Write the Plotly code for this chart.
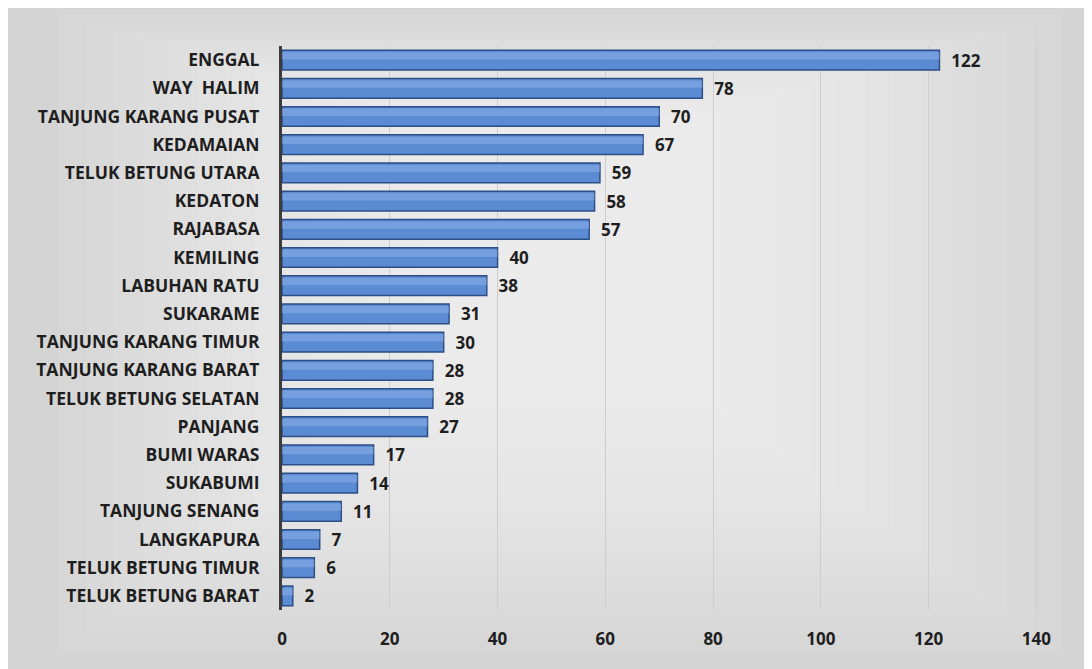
import plotly.graph_objects as go

kecamatan = ["ENGGAL", "WAY  HALIM", "TANJUNG KARANG PUSAT", "KEDAMAIAN",
             "TELUK BETUNG UTARA", "KEDATON", "RAJABASA", "KEMILING",
             "LABUHAN RATU", "SUKARAME", "TANJUNG KARANG TIMUR",
             "TANJUNG KARANG BARAT", "TELUK BETUNG SELATAN", "PANJANG",
             "BUMI WARAS", "SUKABUMI", "TANJUNG SENANG", "LANGKAPURA",
             "TELUK BETUNG TIMUR", "TELUK BETUNG BARAT"]
jumlah = [122, 78, 70, 67, 59, 58, 57, 40, 38, 31, 30, 28, 28, 27, 17, 14, 11, 7, 6, 2]
x_ticks = [0, 20, 40, 60, 80, 100, 120, 140]

# page has an 8px body margin, so the figure itself is a bit smaller
W, H = 1084, 661
L, R, T, B = 274, 34, 38, 59
pw, ph = W - L - R, H - T - B


def px_x(v):
    return (v - L) / pw


def px_y(v):
    return (H - B - v) / ph


fig = go.Figure()

# main bars
fig.add_trace(go.Bar(
    y=kecamatan, x=jumlah, orientation="h", width=0.7,
    marker=dict(color="#5b8bd2", line=dict(color="#2d4e86", width=1.5)),
    text=jumlah, texttemplate="  %{x}", textposition="outside", cliponaxis=False,
    constraintext="none",
    textfont=dict(family="Open Sans", size=17, color="#1e1e1e", weight="bold"),
    hoverinfo="skip",
))
# highlight strip for a bit of a 3d look
fig.add_trace(go.Bar(
    y=kecamatan, x=jumlah, orientation="h", width=0.26, offset=-0.28,
    marker=dict(color="#8fb4ea", opacity=0.5, line=dict(width=0)),
    hoverinfo="skip",
))

# soft radial-ish background
shapes = [dict(type="rect", xref="paper", yref="paper",
               x0=px_x(0), x1=px_x(W), y0=px_y(H), y1=px_y(0),
               fillcolor="#d4d4d4", line_width=0, layer="below")]
for i in range(14):
    pad_x, pad_y = 20 + i * 28, 15 + i * 20
    shapes.append(dict(type="rect", xref="paper", yref="paper",
                       x0=px_x(pad_x + 30), x1=px_x(W - pad_x - 10),
                       y0=px_y(H - pad_y), y1=px_y(pad_y * 0.4),
                       fillcolor="white", opacity=0.07, line_width=0, layer="below"))

fig.update_layout(
    width=W, height=H,
    margin=dict(l=L, r=R, t=T, b=B),
    paper_bgcolor="white", plot_bgcolor="rgba(0,0,0,0)",
    barmode="overlay", showlegend=False, shapes=shapes,
    font=dict(family="Open Sans", color="#1e1e1e"),
)
fig.update_xaxes(range=[0, 144], tickvals=x_ticks, showgrid=True,
                 gridcolor="#cdcdcd", gridwidth=1, zeroline=False,
                 ticklabelstandoff=17,
                 tickfont=dict(family="Open Sans", size=17, weight="bold", color="#1e1e1e"))
fig.update_yaxes(autorange="reversed", showline=True, linecolor="#3c3c3c",
                 linewidth=3, ticklabelstandoff=16,
                 tickfont=dict(family="Open Sans", size=17.5, weight="bold", color="#1e1e1e"))

fig.write_html("out.html")
